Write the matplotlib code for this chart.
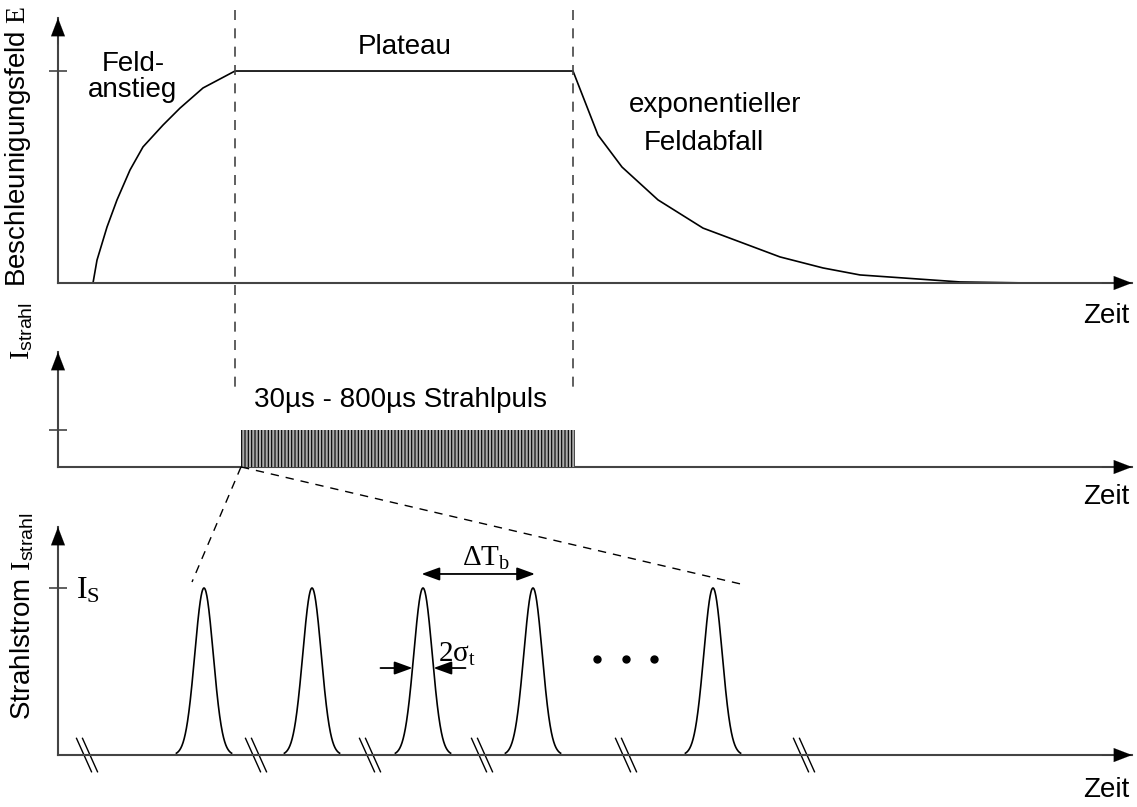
import numpy as np
import matplotlib
matplotlib.use("Agg")
import matplotlib.pyplot as plt

plt.rcParams["font.family"] = ["Liberation Sans", "DejaVu Sans"]
plt.rcParams["mathtext.fontset"] = "custom"
plt.rcParams["mathtext.rm"] = "Liberation Serif"
plt.rcParams["mathtext.sf"] = "Liberation Sans"
plt.rcParams["mathtext.it"] = "Liberation Serif:italic"
plt.rcParams["hatch.linewidth"] = 0.8

# field envelope (time in arbitrary units, E relative to plateau)
field_t = [3.5, 3.9, 4.9, 5.9, 7.2, 8.5, 10.5, 12.2, 14.5, 17.7,
           51.5, 54.0, 56.4, 60.0, 64.5, 72.2, 76.5, 80.2, 90.2, 97.2]
field_E = [0.0, 0.108, 0.264, 0.392, 0.533, 0.642, 0.745, 0.825, 0.920, 1.0,
           1.0, 0.698, 0.547, 0.392, 0.259, 0.123, 0.071, 0.038, 0.005, 0.0]
plateau_start, plateau_end = 17.7, 51.5

# beam pulse
pulse_start, pulse_end, pulse_level = 18.3, 51.7, 1.0

# bunches (zoomed view)
bunch_t = [14.6, 25.4, 36.5, 47.5, 65.5]
bunch_amp = 1.0
bunch_sigma = 0.92
break_t = [2.9, 19.8, 31.2, 42.4, 56.8, 74.6]
dots_t = [53.9, 56.8, 59.6]

AX_COL = "#444444"
t_tip = 107.4

fig = plt.figure(figsize=(11.37, 8.07), dpi=100)


def arrow(ax, tip, tail, style="-|>,head_length=1.3,head_width=0.5", lw=0.1):
    ax.annotate("", xy=tip, xytext=tail,
                arrowprops=dict(arrowstyle=style, mutation_scale=10, color="black",
                                lw=lw, shrinkA=0, shrinkB=0))


def panel(top, bottom, ylim, y_tip, ytick):
    ax = fig.add_axes([0, 1 - bottom / 807, 1, (bottom - top) / 807])
    ax.set_xlim(-5.8, 107.9)
    ax.set_ylim(*ylim)
    for s in ["top", "right"]:
        ax.spines[s].set_visible(False)
    ax.spines["left"].set_position(("data", 0))
    ax.spines["bottom"].set_position(("data", 0))
    ax.spines["left"].set_bounds(0, y_tip)
    ax.spines["bottom"].set_bounds(0, t_tip)
    for s in ["left", "bottom"]:
        ax.spines[s].set_color(AX_COL)
        ax.spines[s].set_linewidth(1.5)
    ax.set_xticks([])
    ax.set_yticks([ytick])
    ax.set_yticklabels([""])
    ax.tick_params(axis="y", direction="inout", length=13, width=1.2, color=AX_COL)
    ax.patch.set_alpha(0)
    arrow(ax, (0, y_tip), (0, y_tip * 0.9))
    arrow(ax, (t_tip, 0), (t_tip - 3, 0))
    return ax


ax_top = panel(0, 300, (-0.0802, 1.335), 1.25, 1.0)
ax_mid = panel(300, 510, (-1.162, 4.514), 3.108, pulse_level)
ax_bot = panel(510, 807, (-0.311, 1.467), 1.365, bunch_amp)

# top panel: field
ax_top.plot(field_t, field_E, color="black", lw=1.2)
for tx in [plateau_start, plateau_end]:
    ax_top.plot([tx, tx], [1.29, -0.514], color=AX_COL, lw=1.2,
                dashes=(6, 5), clip_on=False)
fs = 20
ax_top.text(7.5, 0.97, "Feld-\nanstieg", fontsize=fs, ha="center", va="center",
            linespacing=1.0)
ax_top.text(34.7, 1.113, "Plateau", fontsize=fs, ha="center", va="center")
ax_top.text(65.7, 0.84, "exponentieller", fontsize=fs, ha="center", va="center")
ax_top.text(64.6, 0.66, "Feldabfall", fontsize=fs, ha="center", va="center")
ax_top.text(104.8, -0.156, "Zeit", fontsize=fs, ha="center", va="center")

# middle panel: beam pulse
ax_mid.bar(pulse_start, pulse_level, width=pulse_end - pulse_start, align="edge",
           color="#ababab", edgecolor="black", hatch="|||||", lw=0, zorder=3)
ax_mid.text(34.3, 1.81, "30µs - 800µs Strahlpuls",
            fontsize=fs, ha="center", va="center")
ax_mid.text(104.8, -0.81, "Zeit", fontsize=fs, ha="center", va="center")

# bottom panel: bunches
for tc in bunch_t:
    x = np.linspace(tc - 3 * bunch_sigma, tc + 3 * bunch_sigma, 200)
    ax_bot.plot(x, bunch_amp * np.exp(-(x - tc) ** 2 / (2 * bunch_sigma ** 2)),
                color="black", lw=1.2)
for tb in break_t:
    for off in (-0.3, 0.3):
        ax_bot.plot([tb + off - 0.75, tb + off + 0.75], [0.1, -0.1],
                    color="black", lw=1.0, clip_on=False)
ax_bot.plot(dots_t, [0.575] * len(dots_t), "o", color="black", ms=5)

# zoom lines from pulse start
ax_bot.plot([pulse_start, 13.4], [1.725, 1.036], color="black", lw=1.0,
            dashes=(6, 5), clip_on=False)
ax_bot.plot([pulse_start, 68.7], [1.725, 1.018], color="black", lw=1.0,
            dashes=(6, 5), clip_on=False)

# bunch spacing arrow
arrow(ax_bot, (bunch_t[2] - 0.15, 1.084), (bunch_t[3] + 0.2, 1.084),
      style="<|-|>,head_length=1.1,head_width=0.4", lw=1.3)
ax_bot.text(42.8, 1.13, r"$\mathrm{\Delta T_b}$", fontsize=21, ha="center", va="baseline")

# bunch width arrows
hw = 1.05
for sgn in (-1, 1):
    arrow(ax_bot, (bunch_t[2] + sgn * hw, 0.521), (bunch_t[2] + sgn * (hw + 3.2), 0.521),
          style="-|>,head_length=1.1,head_width=0.4", lw=1.3)
ax_bot.text(38.0, 0.56, r"$\mathrm{2\sigma_t}$", fontsize=21, ha="left", va="baseline")

ax_bot.text(1.8, 0.94, r"$\mathrm{I_S}$", fontsize=23, ha="left", va="baseline")
ax_bot.text(104.8, -0.21, "Zeit", fontsize=fs, ha="center", va="center")

# y-axis labels
fig.text(18 / 1137, 1 - 146 / 807, r"Beschleunigungsfeld $\mathrm{E}$", fontsize=fs,
         rotation=90, ha="center", va="center")
fig.text(22 / 1137, 1 - 331 / 807, r"$\mathrm{I}_{\mathsf{strahl}}$", fontsize=fs,
         rotation=90, ha="center", va="center")
fig.text(22 / 1137, 1 - 616 / 807, r"Strahlstrom $\mathrm{I}_{\mathsf{strahl}}$",
         fontsize=fs, rotation=90, ha="center", va="center")

fig.savefig("out.png", dpi=100)
